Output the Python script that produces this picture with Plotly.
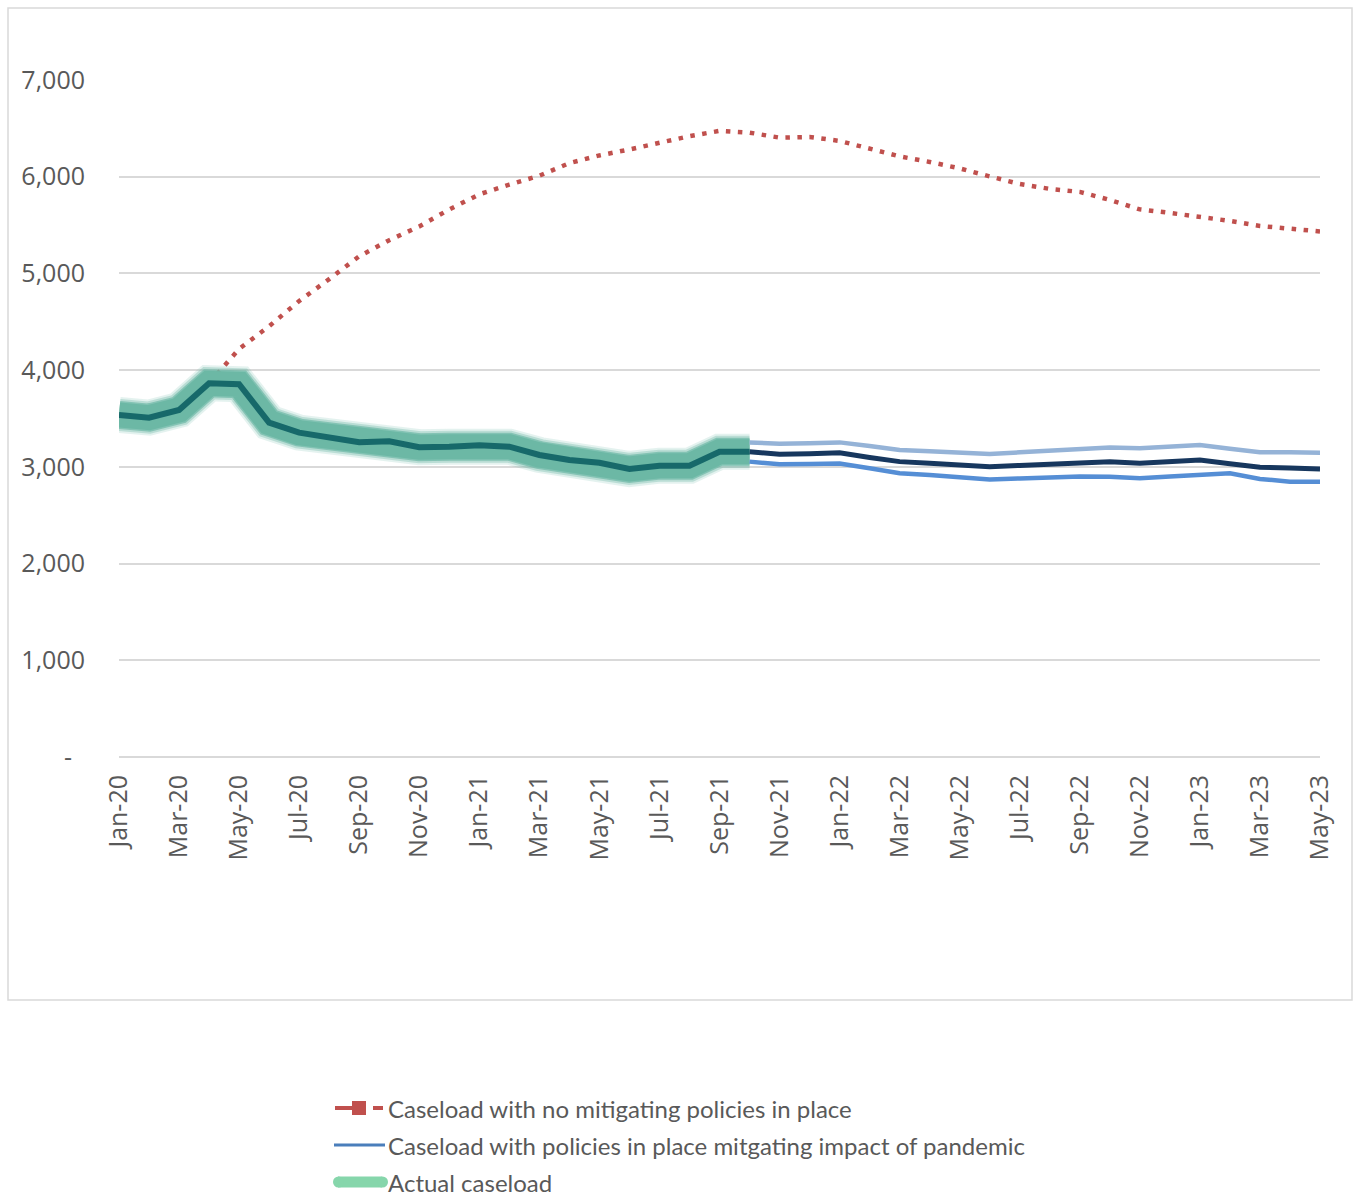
import plotly.graph_objects as go

# ---------------- data ----------------
months = ["Jan-20","Feb-20","Mar-20","Apr-20","May-20","Jun-20","Jul-20","Aug-20","Sep-20","Oct-20",
          "Nov-20","Dec-20","Jan-21","Feb-21","Mar-21","Apr-21","May-21","Jun-21","Jul-21","Aug-21",
          "Sep-21","Oct-21","Nov-21","Dec-21","Jan-22","Feb-22","Mar-22","Apr-22","May-22","Jun-22",
          "Jul-22","Aug-22","Sep-22","Oct-22","Nov-22","Dec-22","Jan-23","Feb-23","Mar-23","Apr-23","May-23"]

# Actual caseload Jan-20 .. Oct-21
actual = [3537, 3509, 3588, 3864, 3854, 3457, 3354, 3306, 3254, 3265,
          3203, 3209, 3223, 3209, 3123, 3071, 3043, 2978, 3012, 3012,
          3157, 3157]

# Caseload with no mitigating policies Apr-20 .. May-23
no_policy = [3864, 4219, 4454, 4715, 4941, 5177, 5344, 5486, 5662, 5818,
             5919, 6010, 6141, 6220, 6282, 6355, 6419, 6474, 6456, 6404,
             6411, 6370, 6293, 6210, 6153, 6086, 6003, 5925, 5874, 5843,
             5760, 5662, 5626, 5589, 5543, 5491, 5465, 5434]

# Projections with mitigating policies Oct-21 .. May-23
proj_central = [3157, 3130, 3135, 3145, 3097, 3054, 3037, 3020, 3002, 3015,
                3030, 3045, 3054, 3037, 3054, 3071, 3033, 2996, 2987, 2978]
proj_high = [3253, 3240, 3245, 3253, 3215, 3175, 3161, 3147, 3133, 3150,
             3170, 3185, 3199, 3192, 3205, 3226, 3188, 3150, 3150, 3147]
proj_low = [3054, 3026, 3030, 3035, 2985, 2933, 2915, 2895, 2870, 2880,
            2892, 2900, 2897, 2881, 2900, 2915, 2933, 2875, 2847, 2847]

y_ticks = [0, 1000, 2000, 3000, 4000, 5000, 6000, 7000]
y_tick_labels = ["-\u00a0\u00a0", "1,000", "2,000", "3,000", "4,000", "5,000", "6,000", "7,000"]

legend_labels = ["Caseload with no mitigating policies in place",
                 "Caseload with policies in place mitgating impact of pandemic",
                 "Actual caseload"]

# ---------------- layout geometry ----------------
W, H = 1354, 1197
L, R, T, B = 119, 1320, 80, 757   # plot area in px


def px_x(px):
    return (px - L) / (R - L)


def px_y(py):
    return (B - py) / (B - T)


idx = list(range(len(months)))
x_actual = idx[:len(actual)]
x_nopol = idx[3:3 + len(no_policy)]
x_proj = idx[21:21 + len(proj_central)]

RED = "#c0504d"
GLOW = "108,184,165"
TEAL = "#17696a"
NAVY = "#17375e"
LBLUE = "#95b3d7"
BLUE = "#558ed5"
GREY = "#595959"
LEG_GREEN = "#86d6ab"

fig = go.Figure()

# no-mitigation dotted line
fig.add_trace(go.Scatter(x=x_nopol, y=no_policy, mode="lines",
                         line=dict(color=RED, width=4.5, dash="4.5px,7.5px"),
                         showlegend=False, hoverinfo="skip"))

# glow of actual caseload (stacked soft layers)
for w, a in [(36, 0.18), (32, 0.35), (28, 0.7), (25, 1.0)]:
    fig.add_trace(go.Scatter(x=x_actual, y=actual, mode="lines",
                             line=dict(color=f"rgba({GLOW},{a})", width=w),
                             showlegend=False, hoverinfo="skip"))

# projections
fig.add_trace(go.Scatter(x=x_proj, y=proj_high, mode="lines",
                         line=dict(color=LBLUE, width=4.5), showlegend=False))
fig.add_trace(go.Scatter(x=x_proj, y=proj_low, mode="lines",
                         line=dict(color=BLUE, width=4.5), showlegend=False))
fig.add_trace(go.Scatter(x=x_proj, y=proj_central, mode="lines",
                         line=dict(color=NAVY, width=5), showlegend=False))

# actual line
fig.add_trace(go.Scatter(x=x_actual, y=actual, mode="lines",
                         line=dict(color=TEAL, width=6), showlegend=False))

# ---------------- shapes: chart border + manual legend ----------------
shapes = [
    dict(type="rect", xref="paper", yref="paper",
         x0=px_x(8), x1=px_x(1352), y0=px_y(1000), y1=px_y(8),
         line=dict(color="#d9d9d9", width=1.5), fillcolor="rgba(0,0,0,0)", layer="below"),
]
leg_y = [1108, 1145, 1182]
# red: dash + square + dash
shapes += [
    dict(type="line", xref="paper", yref="paper", x0=px_x(335), x1=px_x(352),
         y0=px_y(leg_y[0]), y1=px_y(leg_y[0]), line=dict(color=RED, width=4)),
    dict(type="rect", xref="paper", yref="paper", x0=px_x(352), x1=px_x(366),
         y0=px_y(leg_y[0] + 7), y1=px_y(leg_y[0] - 7), line=dict(color=RED, width=0),
         fillcolor=RED),
    dict(type="line", xref="paper", yref="paper", x0=px_x(373), x1=px_x(383),
         y0=px_y(leg_y[0]), y1=px_y(leg_y[0]), line=dict(color=RED, width=4)),
    dict(type="line", xref="paper", yref="paper", x0=px_x(334), x1=px_x(385),
         y0=px_y(leg_y[1]), y1=px_y(leg_y[1]), line=dict(color="#4a7ebb", width=3)),
    dict(type="line", xref="paper", yref="paper", x0=px_x(338), x1=px_x(382),
         y0=px_y(leg_y[2]), y1=px_y(leg_y[2]), line=dict(color=LEG_GREEN, width=11)),
    dict(type="circle", xref="paper", yref="paper", x0=px_x(333), x1=px_x(344),
         y0=px_y(leg_y[2] + 5.5), y1=px_y(leg_y[2] - 5.5), line=dict(width=0),
         fillcolor=LEG_GREEN),
    dict(type="circle", xref="paper", yref="paper", x0=px_x(377), x1=px_x(388),
         y0=px_y(leg_y[2] + 5.5), y1=px_y(leg_y[2] - 5.5), line=dict(width=0),
         fillcolor=LEG_GREEN),
]

annotations = []
for lab, yy in zip(legend_labels, leg_y):
    annotations.append(dict(text=lab, xref="paper", yref="paper",
                            x=px_x(386), y=px_y(yy), xanchor="left", yanchor="middle",
                            showarrow=False,
                            font=dict(family="Lato", size=24, color=GREY)))

fig.update_layout(
    width=W, height=H,
    margin=dict(l=L, r=W - R, t=T, b=H - B, pad=0),
    paper_bgcolor="white", plot_bgcolor="white",
    shapes=shapes, annotations=annotations,
    showlegend=False,
    xaxis=dict(range=[0, len(months) - 1], tickvals=idx[::2], ticktext=months[::2],
               tickangle=-90, showgrid=False, zeroline=False, showline=False,
               ticks="", ticklabelstandoff=12,
               tickfont=dict(family="Open Sans", size=25, color=GREY)),
    yaxis=dict(range=[0, 7000], tickvals=y_ticks, ticktext=y_tick_labels,
               showgrid=True, gridcolor="#d9d9d9", gridwidth=1.5,
               zeroline=True, zerolinecolor="#d9d9d9", zerolinewidth=1.5,
               showline=False, ticks="", ticklabelstandoff=33,
               tickfont=dict(family="Open Sans", size=25, color=GREY)),
)

fig.write_html("out.html")
